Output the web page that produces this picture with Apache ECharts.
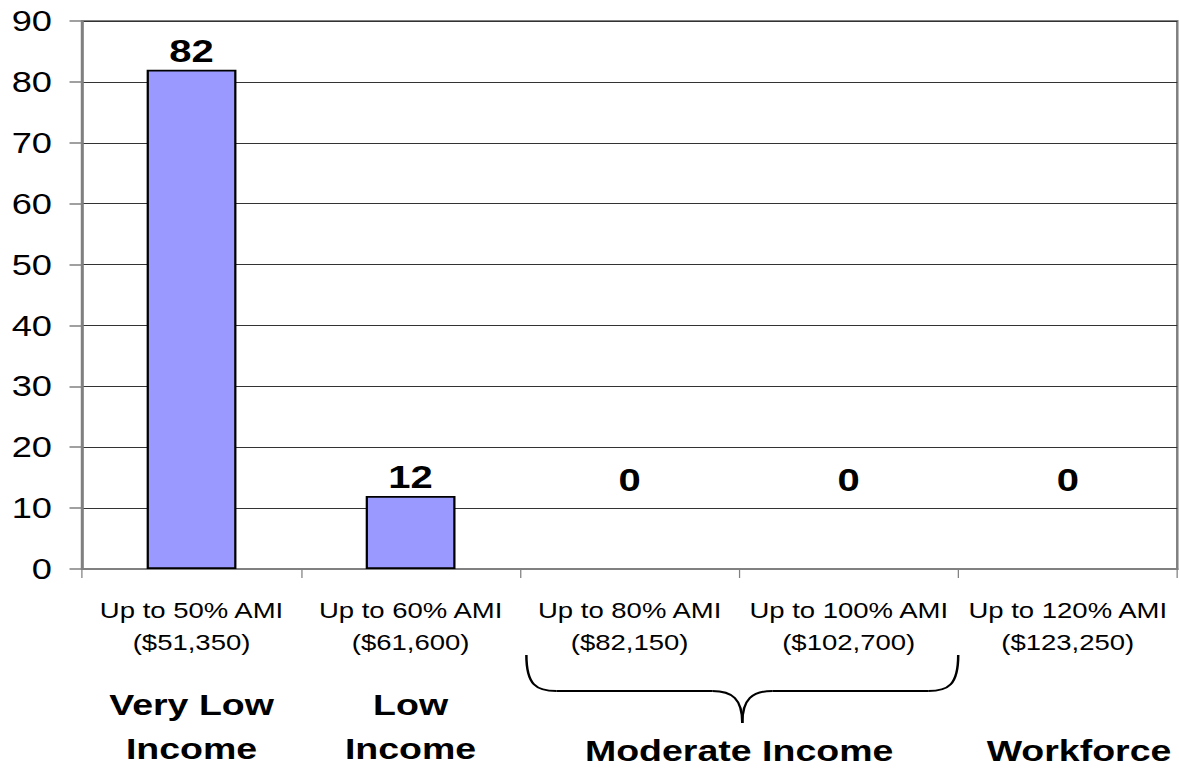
<!DOCTYPE html>
<html>
<head>
<meta charset="utf-8">
<script src="https://cdn.jsdelivr.net/npm/echarts@6/dist/echarts.min.js"></script>
<style>
  html, body { margin: 0; padding: 0; background: #fff; }
  #wrap { width: 1179px; height: 772px; overflow: hidden; position: relative; }
  /* the chart is laid out narrower and widened horizontally */
  #chart { width: 943px; height: 772px; transform: scaleX(1.2503); transform-origin: 0 0; }
</style>
</head>
<body>
<div id="wrap"><div id="chart"></div></div>
<script>
// Income limits (tick labels, two lines each)
const amiLevels = ['Up to 50% AMI', 'Up to 60% AMI', 'Up to 80% AMI', 'Up to 100% AMI', 'Up to 120% AMI'];
const incomeLimits = ['($51,350)', '($61,600)', '($82,150)', '($102,700)', '($123,250)'];
// Units per income level
const units = [82, 12, 0, 0, 0];
// Income groups and the categories each one covers
const groupNames = ['Very Low\nIncome', 'Low\nIncome', 'Moderate Income', 'Workforce'];
const groupSpans = [[0, 0], [1, 1], [2, 3], [4, 4]];
// Value axis
const yMin = 0, yMax = 90, yStep = 10;

const FONT = '"Liberation Sans", Arial, sans-serif';
const categories = amiLevels.map((a, i) => a + '\n' + incomeLimits[i]);

const chart = echarts.init(document.getElementById('chart'), null, { renderer: 'svg' });

chart.setOption({
  animation: false,
  backgroundColor: '#fff',
  grid: {
    left: 65.6, right: 1.4, top: 21, bottom: 203,
    show: true, borderColor: '#808080', borderWidth: 2
  },
  xAxis: {
    type: 'category',
    data: categories,
    axisLine: { show: true, lineStyle: { color: '#808080', width: 2 } },
    axisTick: { show: true, length: 9, lineStyle: { color: '#808080', width: 1 } },
    axisLabel: {
      interval: 0, margin: 25, color: '#000',
      fontFamily: FONT, fontSize: 22, lineHeight: 32
    }
  },
  yAxis: {
    type: 'value',
    min: yMin, max: yMax, interval: yStep,
    axisLine: { show: true, lineStyle: { color: '#808080', width: 2 } },
    axisTick: { show: true, length: 10, lineStyle: { color: '#808080', width: 1.5 } },
    axisLabel: { margin: 24, color: '#000', fontFamily: FONT, fontSize: 29 },
    splitLine: { show: true, lineStyle: { color: '#333', width: 1 } }
  },
  series: [{
    type: 'bar',
    barWidth: '41%',
    // empty bars get no outline; their value labels sit higher up
    data: units.map(v => v === 0
      ? { value: v, itemStyle: { borderWidth: 0 }, label: { offset: [0, -70] } }
      : { value: v }),
    itemStyle: { color: '#9999FF', borderColor: '#000', borderWidth: 1.8 },
    label: {
      show: true, position: 'top', distance: 3,
      color: '#000', fontFamily: FONT, fontWeight: 'bold', fontSize: 32
    }
  }]
});

// Group captions and the brace under the moderate-income categories
function drawGroups() {
  const cx = i => chart.convertToPixel({ xAxisIndex: 0 }, i);
  const band = cx(1) - cx(0);
  const elements = [];

  groupNames.forEach((name, g) => {
    const [a, b] = groupSpans[g];
    let x = (cx(a) + cx(b)) / 2;
    if (a === categories.length - 1) x += 9; // last caption sits a little right of its column
    const twoLines = name.indexOf('\n') >= 0;
    elements.push({
      type: 'text',
      style: {
        text: name, x: x, y: twoLines ? 726 : 750,
        align: 'center', verticalAlign: 'middle',
        fontFamily: FONT, fontWeight: 'bold', fontSize: 30, lineHeight: 44,
        fill: '#000'
      }
    });

    if (b > a) {
      const L = cx(a) - band / 2 + 5;
      const R = cx(b) + band / 2;
      const M = (L + R) / 2;
      const yTop = 655, yMid = 691, yTip = 723;
      const stroke = { stroke: '#000', lineWidth: 2, fill: null };
      elements.push(
        { type: 'bezierCurve', shape: { x1: L, y1: yTop, cpx1: L, cpy1: yMid - 6, cpx2: L + 8, cpy2: yMid, x2: L + 24, y2: yMid }, style: stroke },
        { type: 'line', shape: { x1: L + 24, y1: yMid, x2: M - 24, y2: yMid }, style: stroke },
        { type: 'bezierCurve', shape: { x1: M - 24, y1: yMid, cpx1: M - 8, cpy1: yMid, cpx2: M, cpy2: yMid + 8, x2: M, y2: yTip }, style: stroke },
        { type: 'bezierCurve', shape: { x1: M, y1: yTip, cpx1: M, cpy1: yMid + 8, cpx2: M + 8, cpy2: yMid, x2: M + 24, y2: yMid }, style: stroke },
        { type: 'line', shape: { x1: M + 24, y1: yMid, x2: R - 24, y2: yMid }, style: stroke },
        { type: 'bezierCurve', shape: { x1: R - 24, y1: yMid, cpx1: R - 8, cpy1: yMid, cpx2: R, cpy2: yMid - 6, x2: R, y2: yTop }, style: stroke }
      );
    }
  });

  chart.setOption({ graphic: { elements: elements } });
}
drawGroups();
</script>
</body>
</html>
